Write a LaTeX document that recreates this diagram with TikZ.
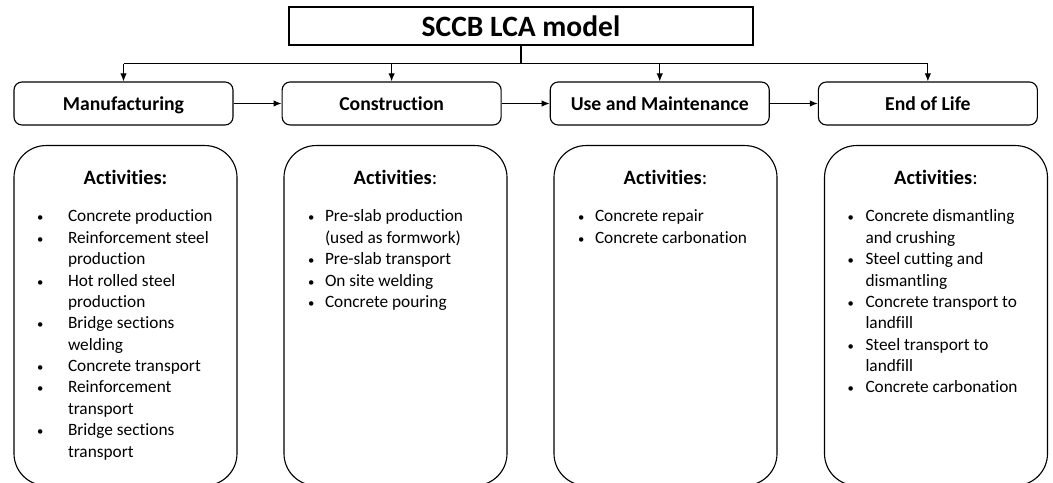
\documentclass[tikz,border=0pt]{standalone}
\usepackage{fontspec}
\setmainfont{Carlito}[Ligatures=CommonOff]
\usetikzlibrary{positioning,arrows.meta}

% smaller list bullet
\newcommand{\actdot}{{\fontsize{9}{10}\selectfont\textbullet}}

\begin{document}
\begin{tikzpicture}[>=Latex, line width=0.8pt,
  titlebox/.style={draw, rectangle, minimum width=11.6cm, minimum height=0.95cm,
    font=\fontsize{21}{24}\selectfont\bfseries},
  stagebox/.style={draw, rounded corners=0.2cm, minimum width=5.475cm,
    minimum height=1.075cm, text height=2.3ex, text depth=0.3ex,
    font=\fontsize{14}{17}\selectfont\bfseries},
  actbox/.style={draw, rounded corners=0.8cm, minimum width=5.575cm,
    minimum height=8.5cm, anchor=north},
  acthead/.style={font=\fontsize{14.5}{17}\selectfont},
  actlist/.style={anchor=base west, inner sep=0pt,
    font=\fontsize{12.3}{15.2}\selectfont},
  flow/.style={->, >={Latex[length=2mm,width=1.6mm]}}]
  % page frame
  \useasboundingbox (0,0) rectangle (26.325,-12.075);

  % top box
  \node[titlebox] (model) at (13.025,-0.65) {SCCB LCA model};

  % the four life cycle stages
  \node[stagebox] (manu) at (3.0875,-2.5875) {Manufacturing};
  \node[stagebox, right=1.2cm of manu] (cons) {Construction};
  \node[stagebox, right=1.2cm of cons] (use) {Use and Maintenance};
  \node[stagebox, right=1.2cm of use] (eol) {End of Life};

  % split line from the model to every stage
  \draw (model.south) -- ++(0,-0.45) coordinate (bus);
  \draw (manu.north |- bus) -- (eol.north |- bus);
  \foreach \s in {manu,cons,use,eol}
    \draw[flow] (\s.north |- bus) -- (\s.north);

  % stage sequence
  \draw[flow] (manu) -- (cons);
  \draw[flow] (cons) -- (use);
  \draw[flow] (use) -- (eol);

  % activity boxes (they run past the bottom edge)
  \node[actbox] (manuact) at (3.1375,-3.625) {};
  \node[actbox] (consact) at (9.8875,-3.625) {};
  \node[actbox] (useact) at (16.6375,-3.625) {};
  \node[actbox] (eolact) at (23.4,-3.625) {};

  \node[acthead] (manuhead) at ([yshift=-0.8cm]manuact.north) {\textbf{Activities:}};
  \node[acthead] (conshead) at ([yshift=-0.8cm]consact.north) {\textbf{Activities}:};
  \node[acthead] (usehead) at ([yshift=-0.8cm]useact.north) {\textbf{Activities}:};
  \node[acthead] (eolhead) at ([yshift=-0.8cm]eolact.north) {\textbf{Activities}:};

  % activity lists
  \node[actlist] (manulist) at ([xshift=0.575cm,yshift=-1.925cm]manuact.north west) {%
    \begin{tabular}[t]{@{}p{0.775cm}@{}l@{}}
      \actdot & Concrete production\\
      \actdot & Reinforcement steel\\
              & production\\
      \actdot & Hot rolled steel\\
              & production\\
      \actdot & Bridge sections\\
              & welding\\
      \actdot & Concrete transport\\
      \actdot & Reinforcement\\
              & transport\\
      \actdot & Bridge sections\\
              & transport
    \end{tabular}};
  \node[actlist] (conslist) at ([xshift=0.6cm,yshift=-1.925cm]consact.north west) {%
    \begin{tabular}[t]{@{}p{0.425cm}@{}l@{}}
      \actdot & Pre-slab production\\
              & (used as formwork)\\
      \actdot & Pre-slab transport\\
      \actdot & On site welding\\
      \actdot & Concrete pouring
    \end{tabular}};
  \node[actlist] (uselist) at ([xshift=0.6cm,yshift=-1.925cm]useact.north west) {%
    \begin{tabular}[t]{@{}p{0.425cm}@{}l@{}}
      \actdot & Concrete repair\\
      \actdot & Concrete carbonation
    \end{tabular}};
  \node[actlist] (eollist) at ([xshift=0.575cm,yshift=-1.925cm]eolact.north west) {%
    \begin{tabular}[t]{@{}p{0.45cm}@{}l@{}}
      \actdot & Concrete dismantling\\
              & and crushing\\
      \actdot & Steel cutting and\\
              & dismantling\\
      \actdot & Concrete transport to\\
              & landfill\\
      \actdot & Steel transport to\\
              & landfill\\
      \actdot & Concrete carbonation
    \end{tabular}};
\end{tikzpicture}
\end{document}
